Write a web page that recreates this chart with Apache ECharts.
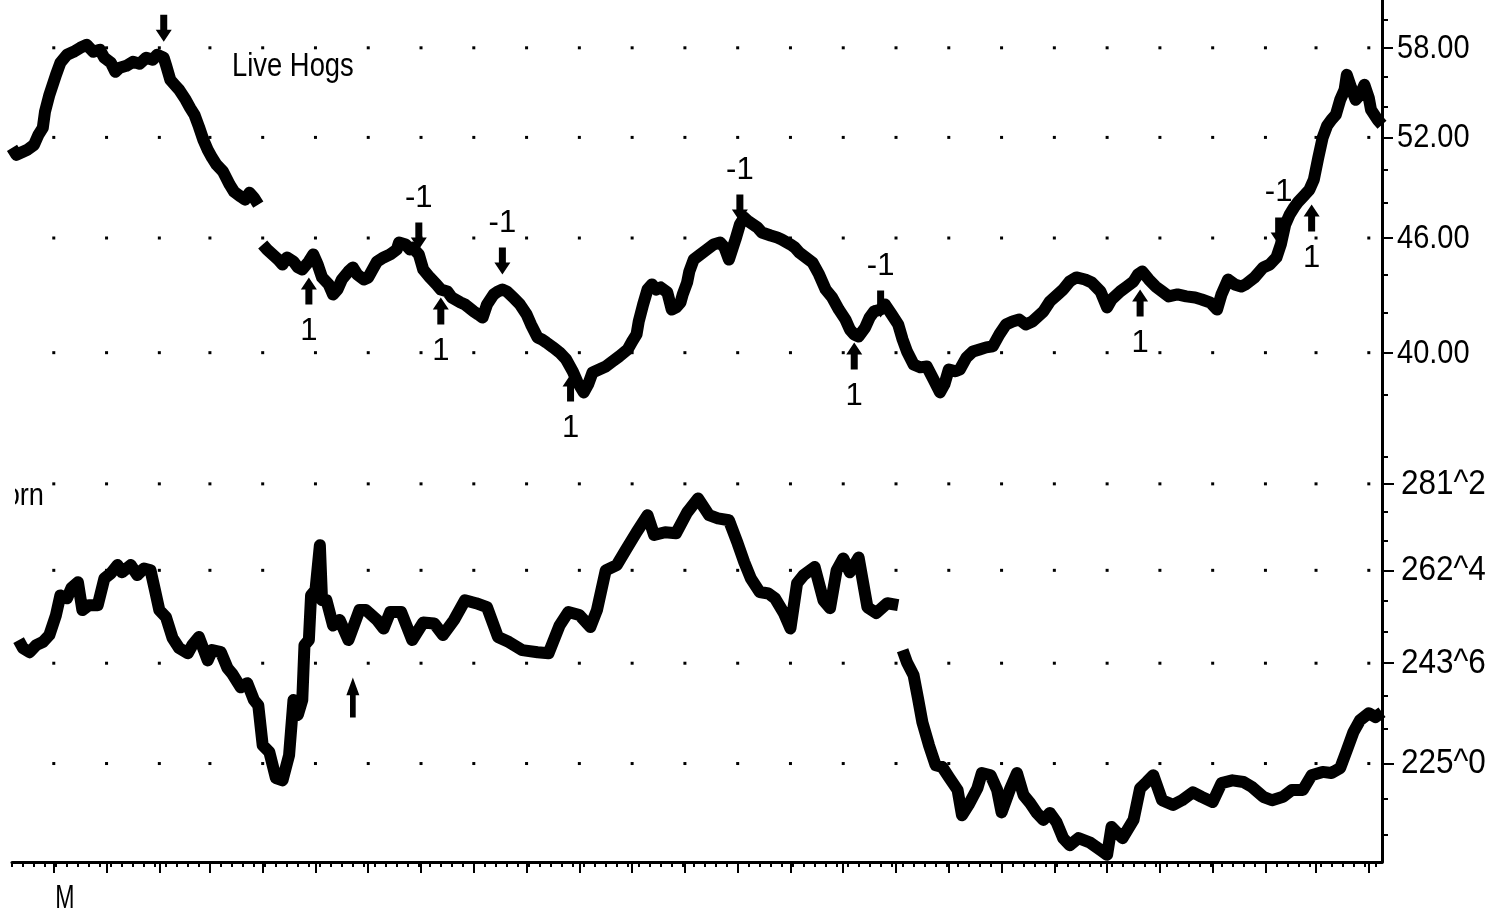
<!DOCTYPE html>
<html><head><meta charset="utf-8">
<script src="https://cdn.jsdelivr.net/npm/echarts@6/dist/echarts.min.js"></script>
<style>html,body{margin:0;padding:0;background:#fff}#c{width:1488px;height:914px}</style>
</head><body><div id="c"></div>
<script>
// ---- Live Hogs (trading day index, price) ----
const hogDays = [0,2,5,7,10,12,14,15,17,20,22,25,28,31,34,37,40,42,45,47,49,52,55,58,61,64,66,69,70,72,74,76,79,81,83,85,87,89,91,93,96,99,101,104,106,108,110,112,113,114,116,119,121,123,125,128,130,132,135,137,139,141,144,146,148,150,153,155,157,160,162,164,166,169,172,175,176,179,181,182,185,187,190,193,195,198,200,204,206,210,212,214,216,219,221,223,225,228,231,234,236,239,241,243,246,249,252,255,257,260,262,264,267,270,273,276,280,282,284,285,287,289,291,293,295,298,300,302,304,305,307,308,310,313,316,319,322,324,326,329,331,333,335,339,341,345,348,350,354,356,358,361,364,367,370,373,376,379,381,383,385,388,390,392,395,397,400,403,405,407,410,413,416,419,422,424,426,429,431,434,437,440,443,446,449,452,455,458,461,464,469,472,475,478,481,484,488,491,495,498,500,504,507,510,512,514,517,520,523,526,530,534,538,541,545,548,550,553,556,559,561,565,569,572,575,577,579,581,583,585,588,590,592,594,596,598,600,602,604,606,607,609,611,613,615,617,618,621,623];
const hogPrices = [51.34,50.91,51.10,51.22,51.53,52.16,52.61,53.65,54.77,56.12,56.95,57.51,57.72,58.00,58.21,57.72,57.86,57.30,56.95,56.33,56.61,56.74,57.02,56.88,57.30,57.16,57.51,57.30,56.81,55.78,55.44,55.11,54.44,53.91,53.45,52.68,51.85,51.22,50.72,50.30,49.87,49.09,48.67,48.38,48.20,48.61,48.32,47.91,null,45.64,45.36,45.03,44.81,44.54,44.92,44.70,44.38,44.27,44.70,45.09,44.54,43.84,43.47,42.94,43.20,43.73,44.16,44.38,44.00,43.73,43.84,44.27,44.70,44.92,45.09,45.36,45.75,45.64,45.36,45.47,45.09,44.27,43.84,43.47,43.20,43.10,42.78,42.52,42.42,42.06,41.91,41.75,42.42,42.94,43.10,43.20,43.10,42.78,42.42,41.91,41.40,40.75,40.65,40.50,40.26,40.01,39.67,39.10,38.62,38.11,38.48,39.05,39.19,39.33,39.57,39.81,40.16,40.55,40.90,41.55,42.42,43.20,43.47,43.20,43.31,43.05,42.16,42.27,42.52,42.94,43.57,44.16,44.81,45.09,45.36,45.64,45.75,45.47,44.81,45.92,46.76,47.16,46.93,46.59,46.31,46.14,46.03,45.92,45.64,45.47,45.20,44.92,44.65,44.00,43.20,42.78,42.16,41.65,41.15,40.90,40.80,41.25,41.75,42.06,42.16,42.42,41.91,41.40,40.65,40.06,39.43,39.29,39.33,38.72,38.11,38.48,39.19,39.10,39.19,39.76,40.06,40.16,40.26,40.31,40.90,41.40,41.55,41.65,41.40,41.55,42.06,42.58,42.89,43.20,43.63,43.84,43.73,43.57,43.10,42.27,42.68,43.10,43.36,43.63,44.00,44.16,43.73,43.36,43.10,42.84,42.94,42.84,42.78,42.68,42.52,42.16,42.94,43.73,43.47,43.36,43.47,43.84,44.38,44.54,44.92,45.64,46.76,47.33,47.74,48.09,48.50,48.79,49.39,50.72,51.98,52.74,53.13,53.45,54.44,55.11,56.12,55.24,54.44,54.77,55.44,54.57,53.78,53.13,52.81];

// ---- Corn (trading day index, price) ----
const cornDays = [3,5,8,11,14,17,20,22,25,27,30,32,35,39,42,45,48,50,54,57,60,63,65,67,70,73,76,80,82,85,89,91,95,98,100,104,107,110,112,114,117,120,123,126,128,130,132,133,135,136,138,140,141,143,146,149,153,158,161,166,169,172,177,182,187,192,196,201,206,211,216,221,226,232,239,244,249,253,258,263,266,270,275,279,284,289,292,297,302,307,312,317,321,326,330,333,336,340,344,347,351,354,357,360,365,369,372,375,378,381,385,389,393,398,403,404,405,407,410,412,414,417,420,423,426,430,432,435,439,441,445,448,450,454,457,460,463,466,469,472,475,478,481,485,490,495,498,500,505,510,513,516,519,523,528,532,537,541,546,550,555,560,564,569,573,578,582,587,591,596,600,604,607,610,613,617,620,623];
const cornPrices = [248.3,246.7,245.9,247.3,247.9,249.3,253.3,257.3,256.7,258.8,260.0,254.3,255.3,255.3,260.8,261.9,263.6,262.1,263.6,261.5,262.9,262.5,258.4,254.3,252.9,248.7,246.7,245.7,247.3,248.9,244.3,246.3,245.9,242.8,241.8,239.1,239.9,236.7,235.7,228.3,227.1,222.4,222.0,226.5,236.7,233.9,236.7,247.3,248.3,257.3,258.4,267.8,256.3,256.3,251.2,252.3,248.3,254.3,254.3,252.3,250.6,253.9,253.9,248.3,251.8,251.6,249.3,252.3,256.3,255.7,254.9,248.9,247.9,246.3,245.9,245.7,251.2,253.9,253.3,250.9,254.3,262.5,263.6,266.7,270.6,274.3,270.0,270.6,270.4,274.9,278.0,274.3,273.6,273.2,268.2,264.2,260.8,258.0,257.7,256.7,253.7,250.6,259.8,261.5,263.2,256.3,254.7,262.5,265.0,262.1,265.2,254.9,253.7,255.7,255.3,null,246.3,243.9,241.4,237.0,232.5,228.3,224.7,224.4,222.6,220.3,215.9,217.7,220.6,223.3,222.9,220.3,216.4,220.6,223.3,219.4,218.0,216.3,215.1,216.3,214.7,212.0,210.8,212.0,211.3,210.0,209.2,213.9,212.0,215.1,220.6,221.7,222.9,218.5,217.7,218.5,219.9,219.1,218.2,221.5,222.0,221.7,220.8,219.1,218.5,219.1,220.3,220.3,222.9,223.5,223.3,224.2,227.4,230.7,232.9,234.2,233.5,234.4];

// ---- signals ----
const hogSellDays = [69,185,223,331,395,576];
const hogSellPrices = [58.43,45.36,44.00,46.93,41.75,45.64];
const hogSellShowLabel = [false,true,true,true,true,true];
const hogBuyDays = [135,195,254,383,513,591];
const hogBuyPrices = [43.84,42.78,38.95,40.50,43.20,47.91];
const cornBuyDays = [155];
const cornBuyPrices = [241.0];

// ---- axes / ticks ----
const hogLabelTicks = [40,46,52,58];
const hogMinorTicks = [38,40,42,44,46,48,50,52,54,56,58,60];
const cornLabelTicks = [225,243.75,262.5,281.25];
const cornMinorTicks = [212.5,218.75,225,231.25,237.5,243.75,250,256.25,262.5,268.75,275,281.25,287.5];
const gridDays = [19,43,67,90,114,138,162,186,210,234,258,282,306,330,354,378,402,426,450,474,498,522,546,570,593,617];
const weekTickDays = []; for (let d = 0; d <= 620; d += 5) weekTickDays.push(d);
const monthLabelDays = [24];
const monthLabels = ['M'];
const dayMin = 0, dayMax = 623;
const hogRange = [35.31, 61.48];
const cornRange = [208.0, 287.8];

const FONT = "'Liberation Sans Narrow','Arial Narrow','Liberation Sans',Arial,sans-serif";
const L = Math.log;
const pairs = (ds, ps) => ds.map((d, i) => [d, ps[i] == null ? null : L(ps[i])]);
const dots = (levels) => { const out = []; levels.forEach(v => gridDays.forEach(d => out.push([d, L(v)]))); return out; };
const cornFmt = (p) => { const w = Math.floor(p + 1e-6); return w + '^' + Math.round((p - w) * 8); };

const downArrow = 'path://M4.5,0 L11.5,0 L11.5,15 L16,15 L8,27 L0,15 L4.5,15 Z';
const upArrow = 'path://M8,0 L16,12 L11.5,12 L11.5,27 L4.5,27 L4.5,12 L0,12 Z';

const chart = echarts.init(document.getElementById('c'), null, {renderer: 'canvas'});
const baseY = (gi, range) => ({type: 'value', gridIndex: gi, position: 'right', min: L(range[0]), max: L(range[1]),
  splitLine: {show: false}, axisLabel: {show: false}});
chart.setOption({
  animation: false,
  backgroundColor: '#fff',
  grid: [
    {left: 12, width: 1370, top: 0, height: 455},
    {left: 12, width: 1370, top: 455, height: 407}
  ],
  xAxis: [
    {type: 'value', gridIndex: 0, min: dayMin, max: dayMax, show: false},
    {type: 'value', gridIndex: 1, min: dayMin, max: dayMax, position: 'bottom',
      axisLine: {show: true, onZero: false, lineStyle: {color: '#000', width: 3}},
      axisTick: {show: true, customValues: weekTickDays, length: 5, lineStyle: {color: '#000', width: 2}},
      axisLabel: {show: false}, splitLine: {show: false}},
    {type: 'value', gridIndex: 1, min: dayMin, max: dayMax, position: 'bottom',
      axisLine: {show: false, onZero: false},
      axisTick: {show: true, customValues: gridDays, length: 11, lineStyle: {color: '#000', width: 2}},
      axisLabel: {show: false}, splitLine: {show: false}}
  ],
  yAxis: [
    Object.assign(baseY(0, hogRange), {
      axisLine: {show: true, onZero: false, lineStyle: {color: '#000', width: 3}},
      axisTick: {show: true, customValues: hogLabelTicks.map(L), length: 11, lineStyle: {color: '#000', width: 2}}}),
    Object.assign(baseY(0, hogRange), {
      axisLine: {show: false, onZero: false},
      axisTick: {show: true, customValues: hogMinorTicks.map(L), length: 6, lineStyle: {color: '#000', width: 2}}}),
    Object.assign(baseY(1, cornRange), {
      axisLine: {show: true, onZero: false, lineStyle: {color: '#000', width: 3}},
      axisTick: {show: true, customValues: cornLabelTicks.map(L), length: 12, lineStyle: {color: '#000', width: 2}}}),
    Object.assign(baseY(1, cornRange), {
      axisLine: {show: false, onZero: false},
      axisTick: {show: true, customValues: cornMinorTicks.map(L), length: 6, lineStyle: {color: '#000', width: 2}}})
  ],
  series: [
    {type: 'scatter', xAxisIndex: 0, yAxisIndex: 0, data: dots(hogLabelTicks), symbol: 'rect', symbolSize: 3,
      itemStyle: {color: '#000', opacity: 1}, silent: true, z: 1},
    {type: 'scatter', xAxisIndex: 1, yAxisIndex: 2, data: dots(cornLabelTicks), symbol: 'rect', symbolSize: 3,
      itemStyle: {color: '#000', opacity: 1}, silent: true, z: 1},
    {type: 'line', xAxisIndex: 0, yAxisIndex: 0, data: pairs(hogDays, hogPrices), showSymbol: false,
      connectNulls: false, lineStyle: {color: '#000', width: 12, join: 'round'}, z: 3},
    {type: 'line', xAxisIndex: 1, yAxisIndex: 2, data: pairs(cornDays, cornPrices), showSymbol: false,
      connectNulls: false, lineStyle: {color: '#000', width: 12, join: 'round'}, z: 3},
    {type: 'scatter', xAxisIndex: 0, yAxisIndex: 0,
      data: pairs(hogSellDays, hogSellPrices).map((v, i) => ({value: v, label: {show: hogSellShowLabel[i]}})),
      symbol: downArrow, symbolSize: [16, 27], symbolOffset: [0, -13.5], itemStyle: {color: '#000', opacity: 1}, z: 4,
      label: {show: true, position: 'top', distance: 9, formatter: '-1', color: '#000', fontFamily: FONT, fontSize: 31}},
    {type: 'scatter', xAxisIndex: 0, yAxisIndex: 0, data: pairs(hogBuyDays, hogBuyPrices), symbol: upArrow,
      symbolSize: [16, 27], symbolOffset: [0, 13.5], itemStyle: {color: '#000', opacity: 1}, z: 4,
      label: {show: true, position: 'bottom', distance: 11, formatter: '1', color: '#000', fontFamily: FONT, fontSize: 31}},
    {type: 'scatter', xAxisIndex: 1, yAxisIndex: 2, data: pairs(cornBuyDays, cornBuyPrices), symbol: upArrow,
      symbolSize: [13, 40], symbolOffset: [0, 20], itemStyle: {color: '#000', opacity: 1}, z: 4}
  ]
});

// Axis labels and titles, placed through the chart's own scales (narrowed text to match the condensed face)
const axisX = chart.convertToPixel({xAxisIndex: 1}, dayMax);
const txt = (text, x, y, size, sx, align) => ({type: 'text', x: x, y: y, scaleX: sx, z: 10,
  style: {text: text, fill: '#000', font: size + 'px ' + FONT, align: align || 'left', verticalAlign: 'middle',
    textAlign: align || 'left', textVerticalAlign: 'middle'}});
const g = [];
hogLabelTicks.forEach(v => g.push(txt(v.toFixed(2), axisX + 15, chart.convertToPixel({yAxisIndex: 0}, L(v)) + 1, 33, 0.88)));
cornLabelTicks.forEach(v => g.push(txt(cornFmt(v), axisX + 19, chart.convertToPixel({yAxisIndex: 2}, L(v)) + 0, 35, 0.9)));
monthLabelDays.forEach((d, i) => g.push(txt(monthLabels[i], chart.convertToPixel({xAxisIndex: 1}, d), 899, 33, 0.7, 'center')));
g.push(txt('Live Hogs', 232, 67, 33, 0.83));
g.push(txt('Corn', -15, 496, 32, 0.85));
// the panel title is cut off at the left edge in the original; mask its first letters
g.push({type: 'rect', shape: {x: 0, y: 478, width: 15, height: 34}, style: {fill: '#fff'}, z: 11});
chart.setOption({graphic: g});
</script>
</body></html>
